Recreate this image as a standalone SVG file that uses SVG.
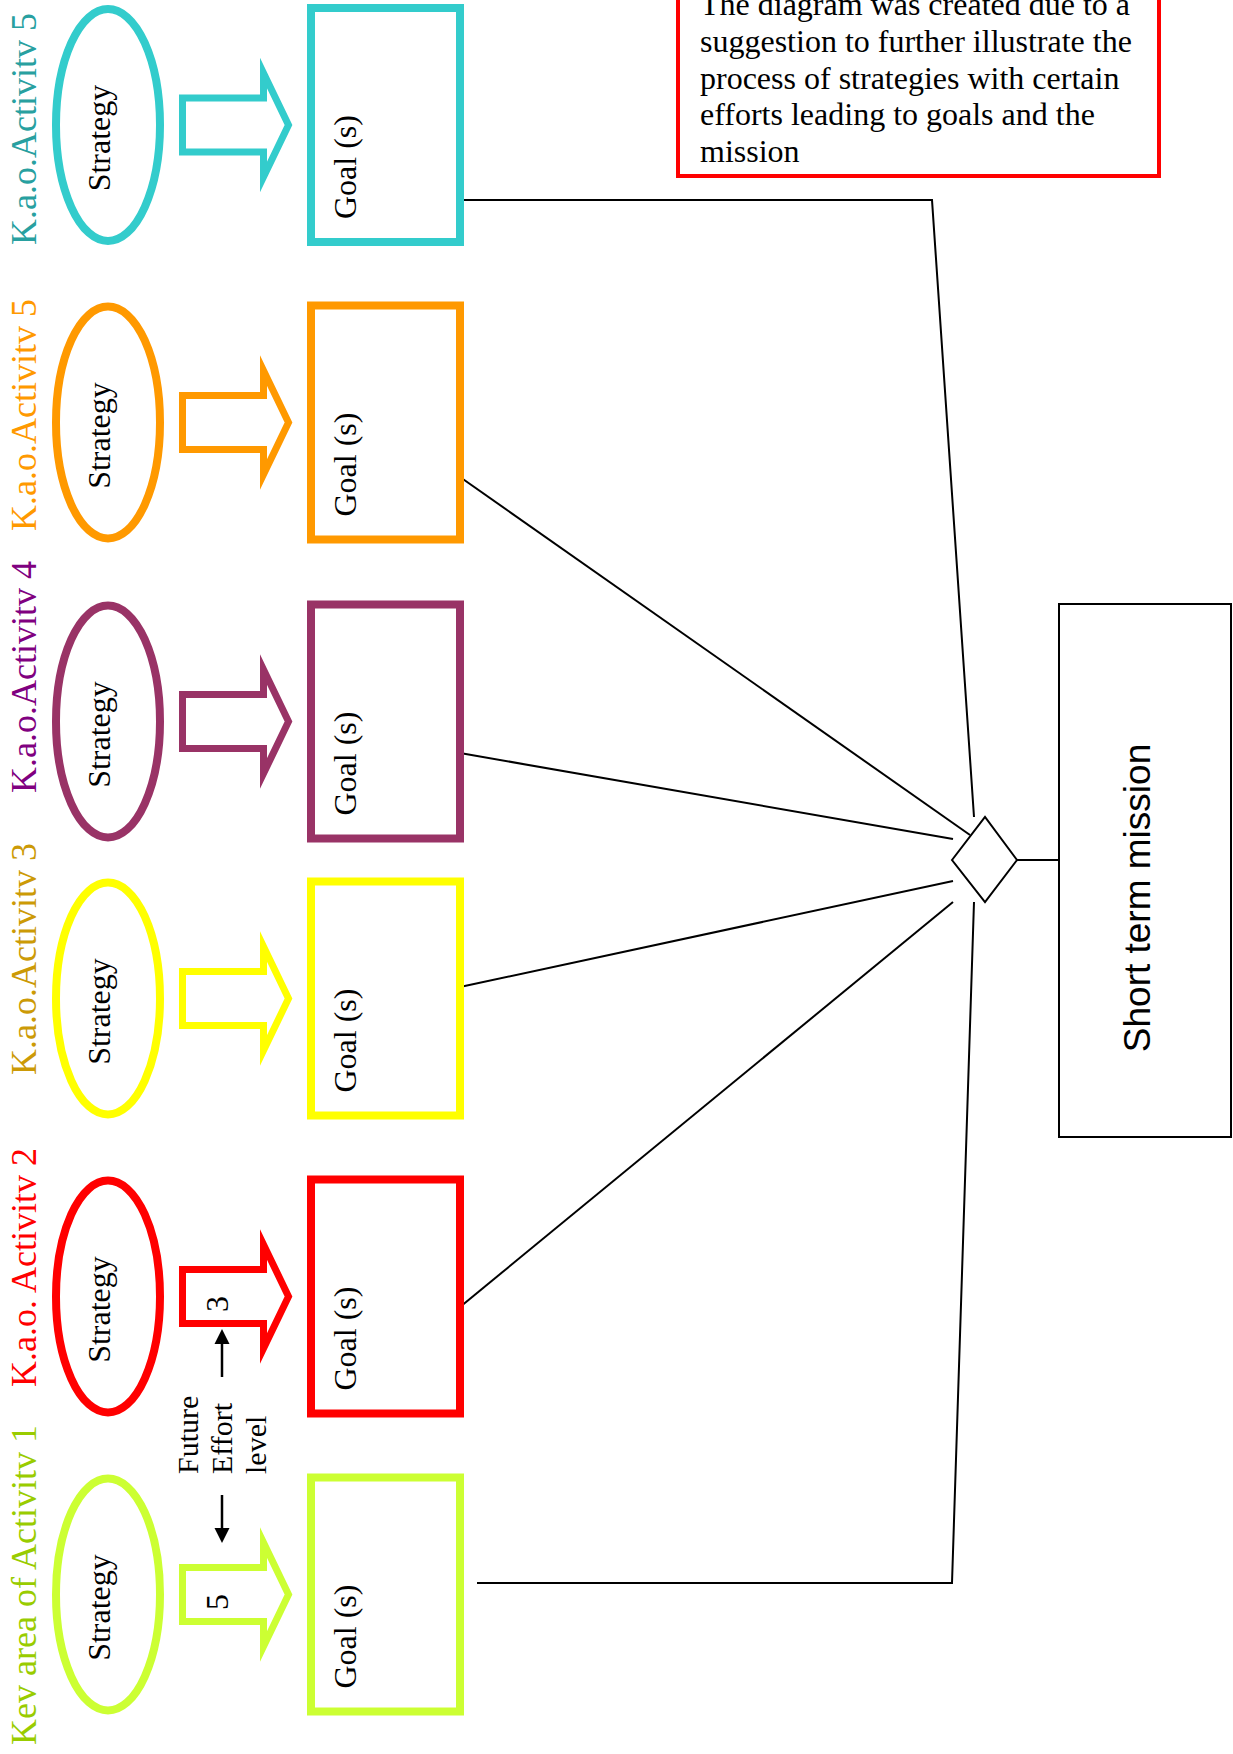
<svg xmlns="http://www.w3.org/2000/svg" width="1233" height="1754" viewBox="0 0 1233 1754">
<style>
  .lbl { font-family: "Liberation Serif", "Times New Roman", serif; font-size: 36px; }
  .tx { font-family: "Liberation Serif", "Times New Roman", serif; font-size: 32px; fill: #000; }
  .fut { font-family: "Liberation Serif", "Times New Roman", serif; font-size: 30px; fill: #000; }
  .ell { fill: #fff; stroke-width: 8; }
  .goal { fill: #fff; stroke-width: 8; }
  .arr { fill: #fff; stroke-width: 7; stroke-miterlimit: 8; }
  .conn { fill: none; stroke: #000; stroke-width: 2; }
</style>
<defs>
  <path id="bigArrow" d="M182.5,-27 L263.5,-27 L263.5,-52 L288.5,0 L263.5,52 L263.5,27 L182.5,27 Z"/>
</defs>
<rect x="0" y="0" width="1233" height="1754" fill="#fff"/>

<g id="connectors">
  <polyline class="conn" points="460,200 932,200 974,817"/>
  <line class="conn" x1="460" y1="477" x2="970" y2="835"/>
  <line class="conn" x1="460" y1="753" x2="953" y2="839"/>
  <line class="conn" x1="460" y1="987" x2="953" y2="881"/>
  <line class="conn" x1="460" y1="1307" x2="953" y2="902"/>
  <polyline class="conn" points="477,1583 952,1583 974,902"/>
  <line class="conn" x1="1017" y1="860" x2="1059" y2="860"/>
</g>

<g id="section5b">
  <text class="lbl" fill="#28A0A0" transform="translate(36,245) rotate(-90)">K.a.o.Activitv 5</text>
  <ellipse class="ell" stroke="#33CCCC" cx="108" cy="125" rx="52" ry="116"/>
  <text class="tx" text-anchor="middle" transform="translate(110,138) rotate(-90)">Strategy</text>
  <use href="#bigArrow" class="arr" stroke="#33CCCC" transform="translate(0,125)"/>
  <rect class="goal" stroke="#33CCCC" x="311" y="8" width="149" height="234"/>
  <text class="tx" text-anchor="middle" transform="translate(356,167) rotate(-90)">Goal (s)</text>
</g>

<g id="section5a">
  <text class="lbl" fill="#FF9900" transform="translate(36,531) rotate(-90)">K.a.o.Activitv 5</text>
  <ellipse class="ell" stroke="#FF9900" cx="108" cy="422.5" rx="52" ry="116"/>
  <text class="tx" text-anchor="middle" transform="translate(110,435.5) rotate(-90)">Strategy</text>
  <use href="#bigArrow" class="arr" stroke="#FF9900" transform="translate(0,422.5)"/>
  <rect class="goal" stroke="#FF9900" x="311" y="305.5" width="149" height="234"/>
  <text class="tx" text-anchor="middle" transform="translate(356,464.5) rotate(-90)">Goal (s)</text>
</g>

<g id="section4">
  <text class="lbl" fill="#800080" transform="translate(36,793) rotate(-90)">K.a.o.Activitv 4</text>
  <ellipse class="ell" stroke="#993366" cx="108" cy="721.5" rx="52" ry="116"/>
  <text class="tx" text-anchor="middle" transform="translate(110,734.5) rotate(-90)">Strategy</text>
  <use href="#bigArrow" class="arr" stroke="#993366" transform="translate(0,721.5)"/>
  <rect class="goal" stroke="#993366" x="311" y="604.5" width="149" height="234"/>
  <text class="tx" text-anchor="middle" transform="translate(356,763.5) rotate(-90)">Goal (s)</text>
</g>

<g id="section3">
  <text class="lbl" fill="#CC9A06" transform="translate(36,1075) rotate(-90)">K.a.o.Activitv 3</text>
  <ellipse class="ell" stroke="#FFFF00" cx="108" cy="998.5" rx="52" ry="116"/>
  <text class="tx" text-anchor="middle" transform="translate(110,1011.5) rotate(-90)">Strategy</text>
  <use href="#bigArrow" class="arr" stroke="#FFFF00" transform="translate(0,998.5)"/>
  <rect class="goal" stroke="#FFFF00" x="311" y="881.5" width="149" height="234"/>
  <text class="tx" text-anchor="middle" transform="translate(356,1040.5) rotate(-90)">Goal (s)</text>
</g>

<g id="section2">
  <text class="lbl" fill="#FF0000" transform="translate(36,1387) rotate(-90)">K.a.o. Activitv 2</text>
  <ellipse class="ell" stroke="#FF0000" cx="108" cy="1296.5" rx="52" ry="116"/>
  <text class="tx" text-anchor="middle" transform="translate(110,1309.5) rotate(-90)">Strategy</text>
  <use href="#bigArrow" class="arr" stroke="#FF0000" transform="translate(0,1296.5)"/>
  <text class="tx" text-anchor="middle" transform="translate(228,1304) rotate(-90)">3</text>
  <rect class="goal" stroke="#FF0000" x="311" y="1179.5" width="149" height="234"/>
  <text class="tx" text-anchor="middle" transform="translate(356,1338.5) rotate(-90)">Goal (s)</text>
</g>

<g id="section1">
  <text class="lbl" fill="#99CC00" transform="translate(36,1745) rotate(-90)">Kev area of Activitv 1</text>
  <ellipse class="ell" stroke="#CCFF33" cx="108" cy="1594.5" rx="52" ry="116"/>
  <text class="tx" text-anchor="middle" transform="translate(110,1607.5) rotate(-90)">Strategy</text>
  <use href="#bigArrow" class="arr" stroke="#CCFF33" transform="translate(0,1594.5)"/>
  <text class="tx" text-anchor="middle" transform="translate(228,1602) rotate(-90)">5</text>
  <rect class="goal" stroke="#CCFF33" x="311" y="1477.5" width="149" height="234"/>
  <text class="tx" text-anchor="middle" transform="translate(356,1636.5) rotate(-90)">Goal (s)</text>
</g>

<g id="effortLevel">
  <text class="fut" transform="translate(198,1474) rotate(-90)">Future</text>
  <text class="fut" transform="translate(232,1474) rotate(-90)">Effort</text>
  <text class="fut" transform="translate(266,1474) rotate(-90)">level</text>
  <line x1="222" y1="1377" x2="222" y2="1343" stroke="#000" stroke-width="2.5"/>
  <polygon points="222,1329 214.5,1344 229.5,1344" fill="#000"/>
  <line x1="222" y1="1495" x2="222" y2="1529" stroke="#000" stroke-width="2.5"/>
  <polygon points="222,1543 214.5,1528 229.5,1528" fill="#000"/>
</g>

<g id="junction">
  <polygon points="952,860 985,817 1017,860 985,902" fill="#fff" stroke="#000" stroke-width="2"/>
</g>

<g id="mission">
  <rect x="1059" y="604" width="172" height="533" fill="#fff" stroke="#000" stroke-width="2"/>
  <text transform="translate(1150,898) rotate(-90)" text-anchor="middle" font-family="Liberation Sans, Arial, sans-serif" font-size="37" fill="#000">Short term mission</text>
</g>

<g id="note">
  <rect x="678" y="-20" width="481" height="196" fill="#fff" stroke="#FF0000" stroke-width="4"/>
  <text class="tx" x="700" y="15">The diagram was created due to a</text>
  <text class="tx" x="700" y="52">suggestion to further illustrate the</text>
  <text class="tx" x="700" y="89">process of strategies with certain</text>
  <text class="tx" x="700" y="125">efforts leading to goals and the</text>
  <text class="tx" x="700" y="162">mission</text>
</g>
</svg>
